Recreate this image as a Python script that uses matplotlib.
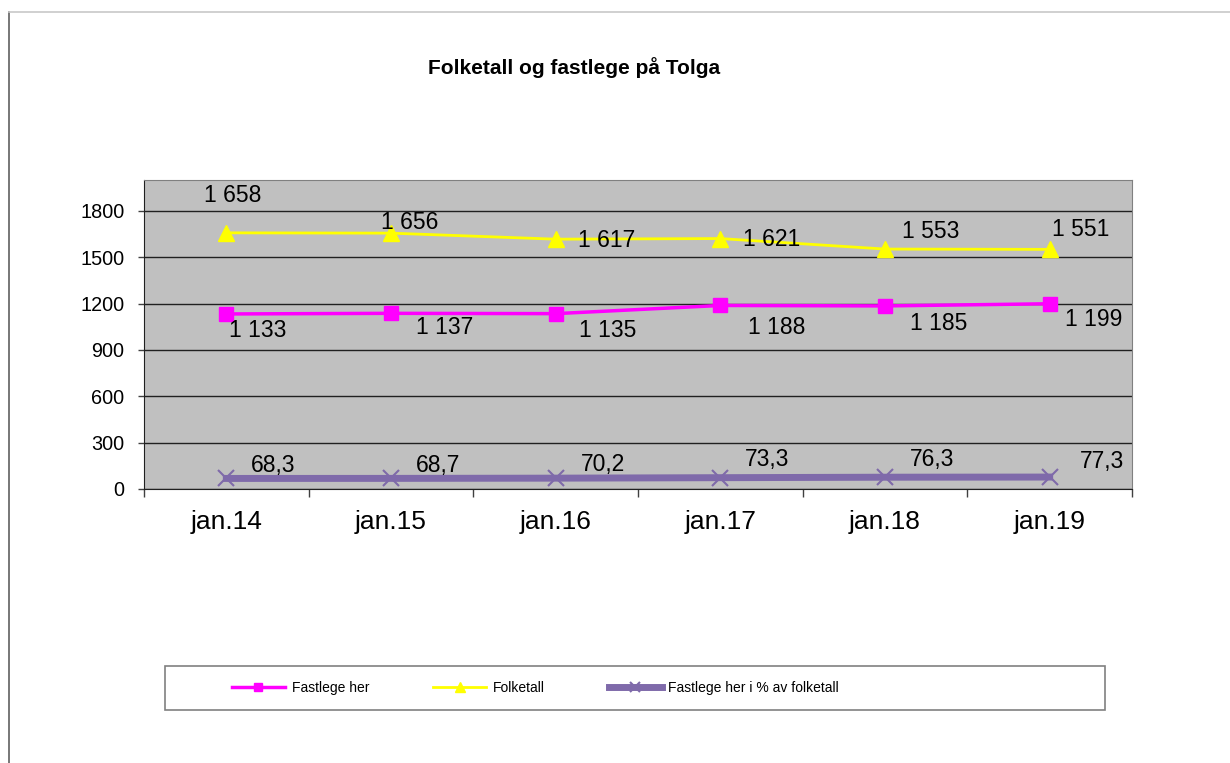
import matplotlib.pyplot as plt
from matplotlib.lines import Line2D
from matplotlib.patches import Rectangle

plt.rcParams['font.family'] = ['Liberation Sans', 'DejaVu Sans']

kategorier = ['jan.14', 'jan.15', 'jan.16', 'jan.17', 'jan.18', 'jan.19']
fastlege_her = [1133, 1137, 1135, 1188, 1185, 1199]
folketall = [1658, 1656, 1617, 1621, 1553, 1551]
prosent = [68.3, 68.7, 70.2, 73.3, 76.3, 77.3]

def fmt_tall(v):
    return f'{v:,}'.replace(',', ' ')

def fmt_pst(v):
    return f'{v:.1f}'.replace('.', ',')

# label offsets in points (dx, dy) for each series
off_folk = [(-16, 27), (-7, 8), (16, -1), (16, -1), (12, 13), (2, 14)]
off_fast = [(2, -12), (18, -10), (17, -12), (20, -16), (18, -13), (11, -11)]
off_pst = [(18, 9), (18, 9), (18, 10), (18, 13), (18, 13), (22, 11)]

fig = plt.figure(figsize=(12.3, 7.63), dpi=100)
ax = fig.add_axes([144 / 1230, 1 - 489 / 763, 988 / 1230, 309 / 763])
ax.set_facecolor('#C0C0C0')

x = range(len(kategorier))
ax.plot(x, folketall, color='#FFFF00', lw=2, marker='^', ms=11, mec='#FFFF00', label='Folketall', zorder=3)
ax.plot(x, fastlege_her, color='#FF00FF', lw=2.5, marker='s', ms=10, mec='#FF00FF', label='Fastlege her', zorder=3)
ax.plot(x, prosent, color='#7F6AAA', lw=5, marker='x', ms=11, mew=1.5, label='Fastlege her i % av folketall', zorder=3)

for i in x:
    ax.annotate(fmt_tall(folketall[i]), (i, folketall[i]), xytext=off_folk[i], textcoords='offset points',
                ha='left', va='center', fontsize=16.5)
    ax.annotate(fmt_tall(fastlege_her[i]), (i, fastlege_her[i]), xytext=off_fast[i], textcoords='offset points',
                ha='left', va='center', fontsize=16.5)
    ax.annotate(fmt_pst(prosent[i]), (i, prosent[i]), xytext=off_pst[i], textcoords='offset points',
                ha='left', va='center', fontsize=16.5)

ax.set_xlim(-0.5, len(kategorier) - 0.5)
ax.set_ylim(0, 2000)
ax.set_yticks(range(0, 2001, 300))
ax.yaxis.grid(True, color='#202020', lw=1)
ax.set_axisbelow(True)
ax.tick_params(axis='y', labelsize=14.3, length=4, width=1, color='#404040', pad=10)

ax.set_xticks([i - 0.5 for i in range(len(kategorier) + 1)])
ax.set_xticklabels([])
ax.set_xticks(list(x), minor=True)
ax.set_xticklabels(kategorier, minor=True, fontsize=19)
ax.tick_params(axis='x', which='major', length=6, width=1, color='#404040')
ax.tick_params(axis='x', which='minor', length=0, pad=15)

for s in ['top', 'right']:
    ax.spines[s].set_color('#808080')
for s in ['left', 'bottom']:
    ax.spines[s].set_color('#202020')

fig.text(574 / 1230, 1 - 68 / 763, 'Folketall og fastlege på Tolga', ha='center', va='center',
         fontsize=15, fontweight='bold')

# legend box
fig.add_artist(Rectangle((165 / 1230, 1 - 710 / 763), 940 / 1230, 44 / 763, transform=fig.transFigure,
                         facecolor='white', edgecolor='#808080', lw=1.2))
h, l = ax.get_legend_handles_labels()
order = [1, 0, 2]
leg = fig.legend([h[k] for k in order], [l[k] for k in order], loc='center left',
                 bbox_to_anchor=(232 / 1230, 1 - 688 / 763), ncol=3, fontsize=10, frameon=False,
                 borderpad=0, borderaxespad=0, columnspacing=4.6, handlelength=3.8, handletextpad=0.5,
                 markerscale=0.6)

fig.add_artist(Line2D([9 / 1230, 9 / 1230], [0, 1 - 12 / 763], color='#606060', lw=1.2))
fig.add_artist(Line2D([9 / 1230, 1], [1 - 12 / 763, 1 - 12 / 763], color='#C8C8C8', lw=1.2))

fig.savefig('out.png', dpi=100)
